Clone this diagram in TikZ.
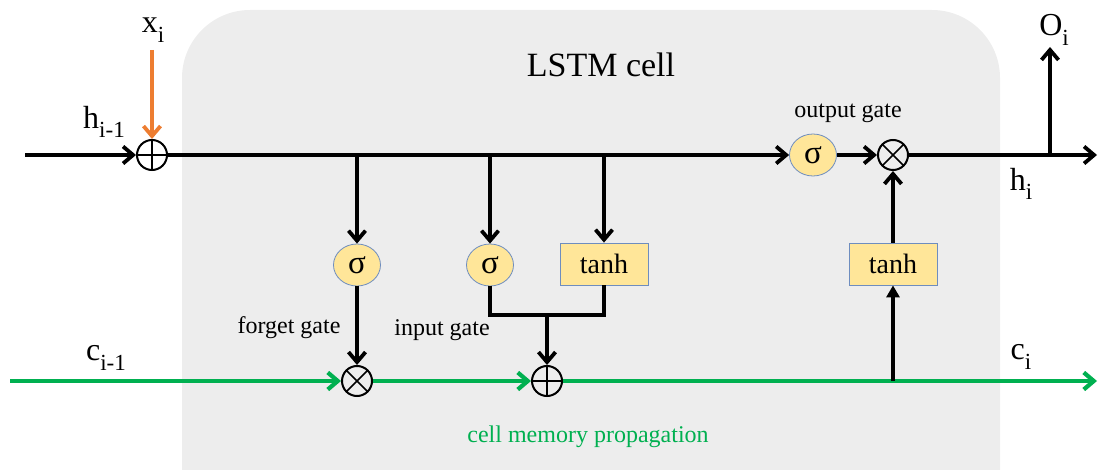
\documentclass[tikz,border=0pt]{standalone}
\usepackage{fontspec}
\setmainfont{Liberation Serif}
\usetikzlibrary{arrows.meta,shapes.geometric}
\definecolor{cellgray}{HTML}{EDEDED}
\definecolor{gatefill}{HTML}{FFE699}
\definecolor{gateedge}{HTML}{6E8DBF}
\definecolor{memgreen}{HTML}{00B050}
\definecolor{inorange}{HTML}{ED7D31}
\newcommand{\lsub}[1]{\raisebox{-0.3em}{\scalebox{0.72}{#1}}}
\begin{document}
\begin{tikzpicture}[x=1pt,y=-1pt,line width=3.8pt,
  arr/.style={-{Straight Barb[length=10pt,width=17pt]}},
  garr/.style={memgreen,line width=4.2pt,-{Straight Barb[length=10pt,width=17pt]}},
  tri/.style={-{Triangle[length=12pt,width=13pt]}},
  gate/.style={ellipse,draw=gateedge,line width=0.8pt,fill=gatefill,minimum width=47pt,minimum height=42pt,inner sep=0pt,font=\fontsize{33}{34}\selectfont},
  tbox/.style={rectangle,draw=gateedge,line width=0.8pt,fill=gatefill,minimum width=88pt,minimum height=42pt,inner sep=0pt,font=\fontsize{28}{30}\selectfont},
  opc/.style={circle,draw=black,line width=2pt,minimum size=30pt,inner sep=0pt},
  plusop/.style={opc,path picture={\draw[line width=1.6pt] (path picture bounding box.north) -- (path picture bounding box.south) (path picture bounding box.west) -- (path picture bounding box.east);}},
  timesop/.style={opc,path picture={\draw[line width=1.6pt] (path picture bounding box.north west) -- (path picture bounding box.south east) (path picture bounding box.south west) -- (path picture bounding box.north east);}},
  biglab/.style={font=\fontsize{32}{34}\selectfont,inner sep=0pt},
  smlab/.style={font=\fontsize{24}{26}\selectfont,inner sep=0pt}]
\useasboundingbox (0,0) rectangle (1098,470);
\fill[cellgray,rounded corners=68pt] (182,10) rectangle (1000,540);

% labels
\node[font=\fontsize{34}{36}\selectfont] (title) at (601,65) {LSTM cell};
\node[biglab] (xl) at (153,30) {x\lsub{i}};
\node[biglab] (hl) at (104,122) {h\lsub{i-1}};
\node[biglab] (cl) at (106,358) {c\lsub{i-1}};
\node[biglab] (hil) at (1021,184) {h\lsub{i}};
\node[biglab] (cil) at (1021,357) {c\lsub{i}};
\node[biglab] (ol) at (1054,30) {O\lsub{i}};
\node[smlab] (fg) at (289,328) {forget gate};
\node[smlab] (ig) at (442,330) {input gate};
\node[smlab] (og) at (848,113) {output gate};
\node[smlab,text=memgreen] (cm) at (588,437) {cell memory propagation};

% operators and gates
\node[plusop] (p1) at (152,155) {};
\node[gate] (sf) at (357,265) {σ};
\node[gate] (si) at (490,265) {σ};
\node[tbox] (ti) at (604,264) {tanh};
\node[gate] (so) at (813,155) {σ};
\node[timesop] (mo) at (893,155) {};
\node[tbox] (to) at (893,264) {tanh};
\node[timesop] (mf) at (357,381) {};
\node[plusop] (pi) at (547,381) {};

\coordinate (hin) at (25,155);
\coordinate (xin) at (152,50);
\coordinate (b1) at (357,155);
\coordinate (b2) at (490,155);
\coordinate (b3) at (604,155);
\coordinate (hout) at (1097,155);
\coordinate (ob) at (1050,155);
\coordinate (oout) at (1050,47);
\coordinate (jn) at (547,315);
\coordinate (cin) at (10,381);
\coordinate (cb) at (893,381);
\coordinate (cout) at (1097,381);

% hidden path
\draw[arr] (hin) -- (p1);
\draw[arr,inorange] (xin) -- (p1);
\draw[arr] (p1) -- (so);
\draw[arr] (b1) -- (sf);
\draw[arr] (b2) -- (si);
\draw[arr] (b3) -- (ti);
\draw[arr] (so) -- (mo);
\draw[arr] (mo) -- (hout);
\draw[arr] (ob) -- (oout);
\draw[arr] (to) -- (mo);
\draw[arr] (sf) -- (mf);
\draw[line join=miter] (si.south) |- (jn) -| (ti.south);
\draw[arr] (jn) -- (pi);

% cell memory path
\draw[garr] (cin) -- (mf);
\draw[garr] (mf) -- (pi);
\draw[garr] (pi) -- (cout);
\draw[tri] (cb) -- (to);
\end{tikzpicture}
\end{document}
